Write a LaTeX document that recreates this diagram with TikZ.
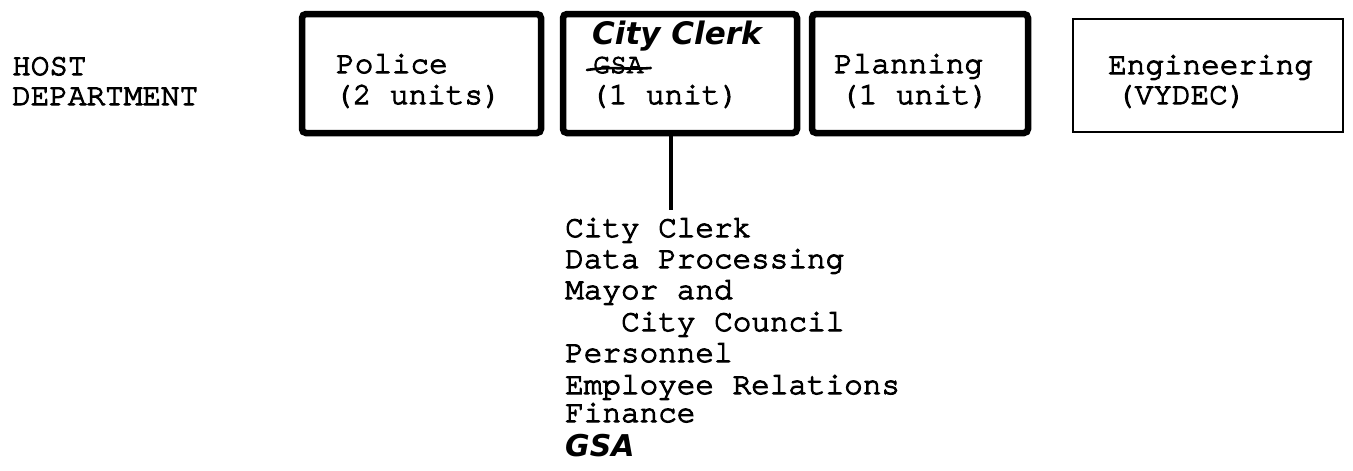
\documentclass[tikz,border=0pt]{standalone}
\usepackage{fontspec}
\newfontfamily\typew{TeX Gyre Cursor}[FakeBold=3.5]
\newfontfamily\hand{DejaVu Sans}
\begin{document}
\begin{tikzpicture}[x=1pt,y=-1pt,
  typed/.style={font=\typew\fontsize{31}{31}\selectfont, inner sep=0pt, anchor=base west},
  scrawl/.style={font=\hand\bfseries\itshape\fontsize{#1}{#1}\selectfont, inner sep=0pt, anchor=base west},
  heavybox/.style={draw, line width=6.5pt, rounded corners=4pt, inner sep=0pt},
  lightbox/.style={draw, line width=2.2pt, inner sep=0pt}]
\useasboundingbox (0,0) rectangle (1353,471);

% row label
\node[typed] (host) at (12,75) {HOST};
\node[typed] (dept) at (12,105) {DEPARTMENT};

% department boxes
\node[heavybox, minimum width=239pt, minimum height=119pt] (police) at (421.5,73.5) {};
\node[heavybox, minimum width=234pt, minimum height=119pt] (clerk)  at (680,73.5) {};
\node[heavybox, minimum width=216pt, minimum height=119pt] (plan)   at (920,73.5) {};
\node[lightbox, minimum width=270pt, minimum height=113pt] (eng)    at (1208,75.5) {};

% box contents
\node[typed] (police1) at (336,73) {Police};
\node[typed] (police2) at (334,104) {(2 units)};

\node[scrawl=31] (clerkhand) at (592,44) {City Clerk};
\node[typed, font=\typew\fontsize{28}{28}\selectfont] (gsaold) at (593,73) {GSA};
\draw[line width=2.6pt, line cap=round] ([xshift=-6pt,yshift=3pt]gsaold.base west)
  .. controls ([xshift=20pt,yshift=7pt]gsaold.base west) and ([xshift=-20pt,yshift=3pt]gsaold.base east)
  .. ([xshift=7pt,yshift=5pt]gsaold.base east);
\node[typed] (clerk2) at (590,104) {(1 unit)};

\node[typed] (plan1) at (834,73) {Planning};
\node[typed] (plan2) at (840,104) {(1 unit)};

\node[typed] (eng1) at (1108,74) {Engineering};
\node[typed] (eng2) at (1116,104) {(VYDEC)};

% units served by the City Clerk box
\coordinate (stem) at (671,210);
\draw[line width=4pt] (clerk.south -| stem) -- (stem);

\node[typed] (l1) at (565,237) {City Clerk};
\node[typed] (l2) at (565,268) {Data Processing};
\node[typed] (l3) at (565,299) {Mayor and};
\node[typed] (l4) at (621,331) {City Council};
\node[typed] (l5) at (565,362) {Personnel};
\node[typed] (l6) at (565,394) {Employee Relations};
\node[typed] (l7) at (565,422) {Finance};
\node[scrawl=30] (gsanew) at (565,456) {GSA};
\end{tikzpicture}
\end{document}
